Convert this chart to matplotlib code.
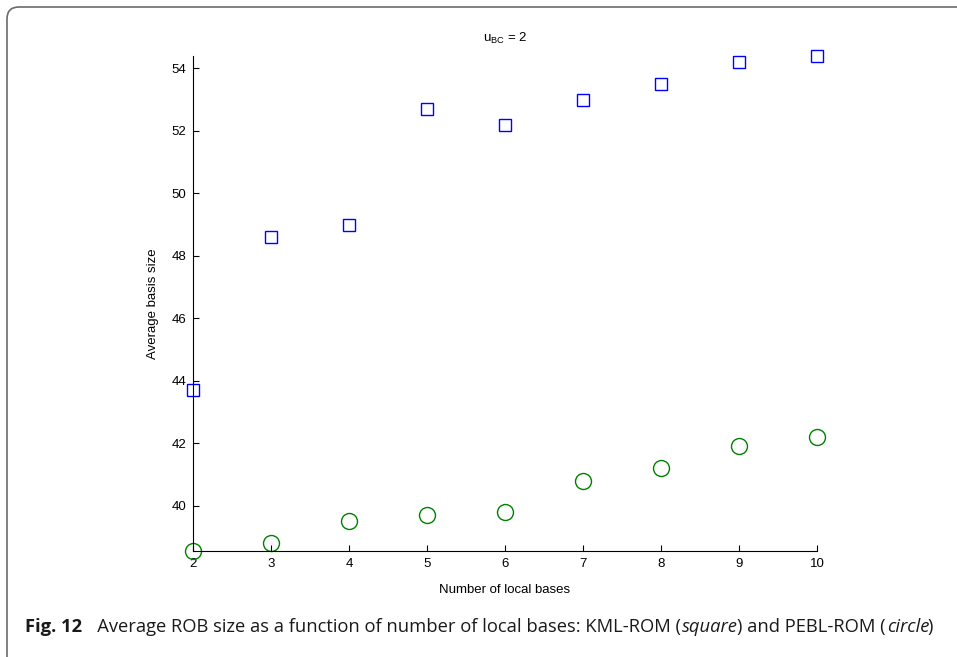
import numpy as np
import matplotlib
matplotlib.use("Agg")
import matplotlib.pyplot as plt
from matplotlib.patches import FancyBboxPatch

# data
n_bases = [2, 3, 4, 5, 6, 7, 8, 9, 10]
kml_rom = [43.7, 48.6, 49.0, 52.7, 52.2, 53.0, 53.5, 54.2, 54.4]
pebl_rom = [38.55, 38.8, 39.5, 39.7, 39.8, 40.8, 41.2, 41.9, 42.2]

x_ticks = [2, 3, 4, 5, 6, 7, 8, 9, 10]
y_ticks = [40, 42, 44, 46, 48, 50, 52, 54]

plt.rcParams['font.family'] = ['Liberation Sans', 'DejaVu Sans']

fig = plt.figure(figsize=(9.57, 6.57), dpi=100)
ax = fig.add_axes([193 / 957, 1 - 551 / 657, (817 - 193) / 957, (551 - 56) / 657])

ax.plot(n_bases, kml_rom, 's', color='#0000ff', mfc='none', ms=8.6, mew=1.0, clip_on=False)
ax.plot(n_bases, pebl_rom, 'o', color='#008000', mfc='none', ms=11.5, mew=1.0, clip_on=False)

ax.set_xlim(min(n_bases), max(n_bases))
ax.set_ylim(min(pebl_rom), max(kml_rom))
ax.set_xticks(x_ticks)
ax.set_yticks(y_ticks)
ax.tick_params(direction='in', length=4, width=0.8, labelsize=9.5, colors='black', pad=5)
for side in ['top', 'right']:
    ax.spines[side].set_visible(False)
for side in ['left', 'bottom']:
    ax.spines[side].set_linewidth(0.8)

ax.set_title(r'u$_{\mathregular{BC}}$ = 2', fontsize=9.5, pad=10)
ax.set_xlabel('Number of local bases', fontsize=9.5, labelpad=10)
ax.set_ylabel('Average basis size', fontsize=9.5, labelpad=9)

# rounded frame around the figure (open to the right/bottom)
frame = FancyBboxPatch((7, -30), 1100, 657 - 7 + 30, boxstyle='round,pad=0,rounding_size=12',
                       transform=None, fill=False, edgecolor='#6b6b6b', linewidth=1.2)
fig.add_artist(frame)

# caption with mixed styles
parts = [
    ('Fig. 12', 'bold', 'normal'),
    ('   Average ROB size as a function of number of local bases: KML-ROM (', 'normal', 'normal'),
    ('square', 'normal', 'italic'),
    (') and PEBL-ROM (', 'normal', 'normal'),
    ('circle', 'normal', 'italic'),
    (')', 'normal', 'normal'),
]
fig.canvas.draw()
renderer = fig.canvas.get_renderer()
x = 25
y = 657 - 632
for txt, weight, style in parts:
    t = fig.text(x / 957, y / 657, txt, fontsize=13.2, fontweight=weight, fontstyle=style,
                 family=['Open Sans', 'DejaVu Sans'], va='baseline', ha='left', color='#1a1a1a')
    bb = t.get_window_extent(renderer)
    x = bb.x1 + (-1 if style == 'italic' else 1)

fig.savefig('out.png', dpi=100)
